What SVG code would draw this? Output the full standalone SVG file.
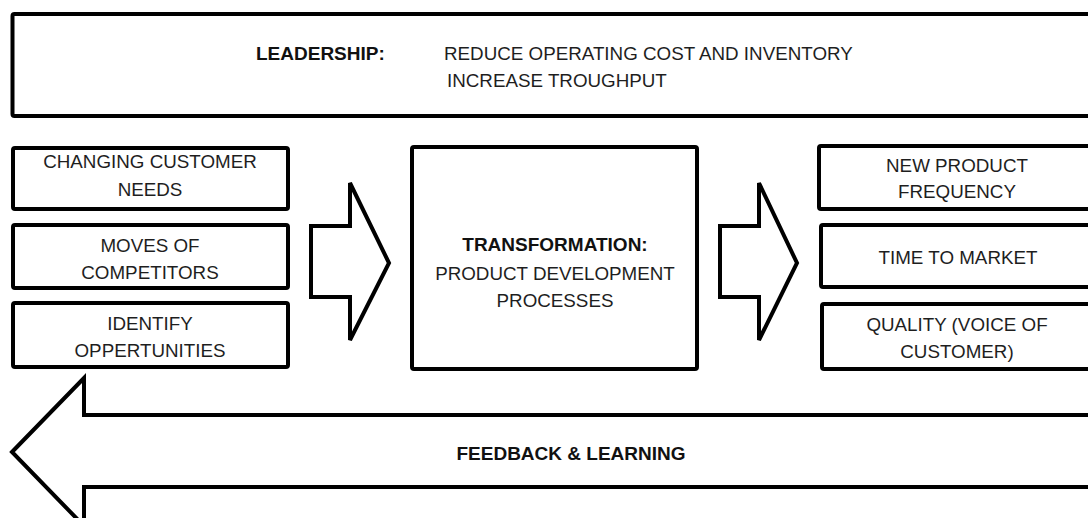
<svg xmlns="http://www.w3.org/2000/svg" width="1088" height="518" viewBox="0 0 1088 518">
<style>
.box{fill:#fff;stroke:#000;stroke-width:4;stroke-linejoin:round}
.arr{fill:#fff;stroke:#000;stroke-width:4;stroke-linejoin:miter}
.t{font-family:"Liberation Sans",Arial,sans-serif;font-size:18.8px;fill:#1e1e1e}
.c{text-anchor:middle}
.b{font-weight:bold;font-size:19px;fill:#111}
</style>
<rect width="1088" height="518" fill="#fff"/>
<g id="leadership">
<rect class="box" x="12.5" y="14" width="1090" height="102" rx="2"/>
<text class="t b" x="256" y="60">LEADERSHIP:</text>
<text class="t" x="444" y="60">REDUCE OPERATING COST AND INVENTORY</text>
<text class="t" x="447" y="87">INCREASE TROUGHPUT</text>
</g>
<g id="changing-customer-needs">
<rect class="box" x="13" y="148" width="275" height="61" rx="2"/>
<text class="t c" x="150" y="168">CHANGING CUSTOMER</text>
<text class="t c" x="150" y="196">NEEDS</text>
</g>
<g id="moves-of-competitors">
<rect class="box" x="13" y="225" width="275" height="63" rx="2"/>
<text class="t c" x="150" y="252">MOVES OF</text>
<text class="t c" x="150" y="279">COMPETITORS</text>
</g>
<g id="identify-oppertunities">
<rect class="box" x="13" y="303" width="275" height="64" rx="2"/>
<text class="t c" x="150" y="330">IDENTIFY</text>
<text class="t c" x="150" y="357">OPPERTUNITIES</text>
</g>
<g id="transformation">
<rect class="box" x="412" y="147" width="285" height="222" rx="2"/>
<text class="t b c" x="555" y="251">TRANSFORMATION:</text>
<text class="t c" x="555" y="280">PRODUCT DEVELOPMENT</text>
<text class="t c" x="555" y="307">PROCESSES</text>
</g>
<g id="new-product-frequency">
<rect class="box" x="819" y="146" width="290" height="63" rx="2"/>
<text class="t c" x="957" y="172">NEW PRODUCT</text>
<text class="t c" x="957" y="198">FREQUENCY</text>
</g>
<g id="time-to-market">
<rect class="box" x="821" y="225" width="290" height="62" rx="2"/>
<text class="t c" x="958" y="264">TIME TO MARKET</text>
</g>
<g id="quality">
<rect class="box" x="822" y="304" width="290" height="65" rx="2"/>
<text class="t c" x="957" y="331">QUALITY (VOICE OF</text>
<text class="t c" x="957" y="358">CUSTOMER)</text>
</g>
<g id="connectors">
<polygon class="arr" points="311,226 350,226 350,183 389,263 350,340 350,297 311,297"/>
<polygon class="arr" points="720,226 759,226 759,183 797,263 759,340 759,297 720,297"/>
<polygon class="arr" points="12,452 84,378 84,415 1100,415 1100,487 84,487 84,526"/>
<text class="t b c" x="571" y="460">FEEDBACK &amp; LEARNING</text>
</g>
</svg>
